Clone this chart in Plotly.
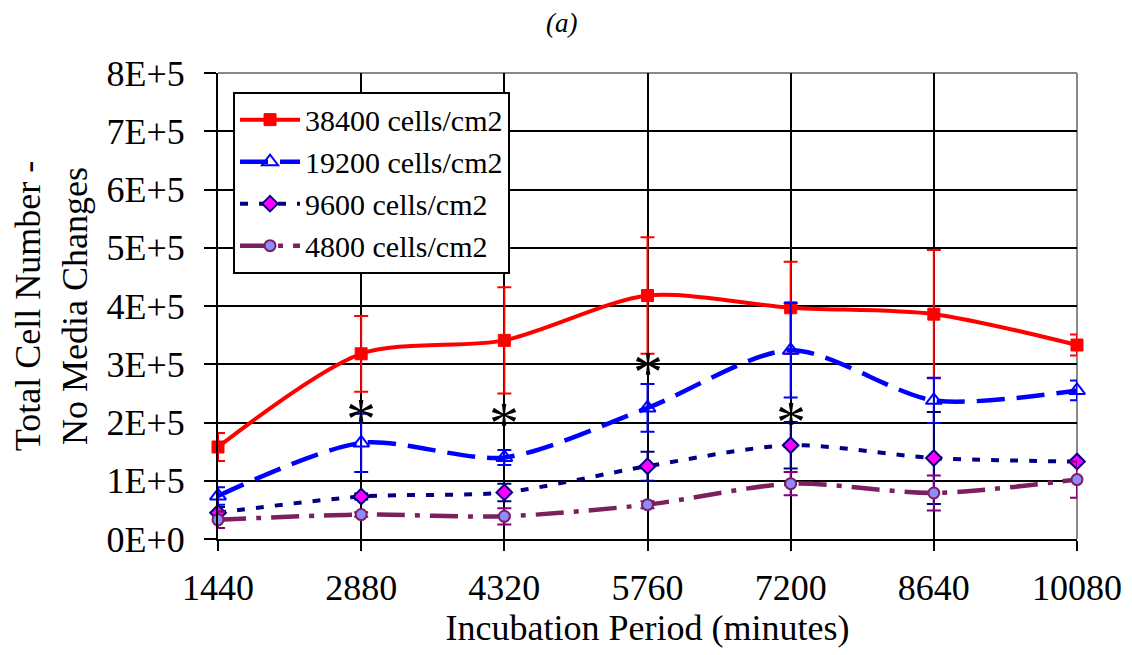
import plotly.graph_objects as go

# ---- data ----
incubation_minutes = [1440, 2880, 4320, 5760, 7200, 8640, 10080]
x_tick_text = ["1440", "2880", "4320", "5760", "7200", "8640", "10080"]
series_names = ["38400 cells/cm2", "19200 cells/cm2", "9600 cells/cm2", "4800 cells/cm2"]
cells_38400 = [158000, 318000, 341000, 418000, 397000, 386000, 333000]
err_38400 = [24000, 65000, 91000, 100000, 79000, 110000, 18000]
cells_19200 = [74000, 165000, 140000, 225000, 324000, 238000, 255000]
err_19200 = [15000, 50000, 13000, 41000, 81000, 39000, 17000]
cells_9600 = [45000, 73000, 80000, 125000, 161000, 139000, 133000]
err_9600 = [10000, 5000, 15000, 25000, 40000, 79000, 3000]
cells_4800 = [33000, 42000, 39000, 59000, 95000, 79000, 102000]
err_4800 = [14000, 4000, 14000, 6000, 20000, 30000, 31000]
star_x = [2880, 4320, 5760, 7200]
star_y = [225000, 218000, 306000, 219000]
y_tick_vals = [0, 100000, 200000, 300000, 400000, 500000, 600000, 700000, 800000]
y_tick_text = ["0E+0", "1E+5", "2E+5", "3E+5", "4E+5", "5E+5", "6E+5", "7E+5", "8E+5"]

FONT = "Liberation Serif, Times New Roman, serif"

fig = go.Figure()

styles = [
    dict(color="#FF0000", dash="solid", width=4,
         marker=dict(symbol="square", size=12, color="#FF0000", line=dict(color="#FF0000", width=1))),
    dict(color="#0000FF", dash="28px,12px", width=4.5,
         marker=dict(symbol="triangle-up-open", size=14, color="#0000FF", line=dict(color="#0000FF", width=2))),
    dict(color="#000080", dash="8px,11px", width=4,
         marker=dict(symbol="diamond", size=12, color="#FF00FF", line=dict(color="#000080", width=2))),
    dict(color="#7B1F5E", dash="28px,10px,5px,10px", width=4.5,
         marker=dict(symbol="circle", size=11, color="#8C8CFF", line=dict(color="#7B1F5E", width=2))),
]
values = [cells_38400, cells_19200, cells_9600, cells_4800]
errors = [err_38400, err_19200, err_9600, err_4800]
err_colors = ["#FF0000", "#0000FF", "#000080", "#800080"]

for name, vals, errs, st, ec in zip(series_names, values, errors, styles, err_colors):
    fig.add_trace(go.Scatter(
        x=incubation_minutes, y=vals, name=name, mode="lines+markers",
        line=dict(color=st["color"], dash=st["dash"], width=st["width"], shape="spline", smoothing=0.8),
        marker=st["marker"],
        error_y=dict(type="data", array=errs, visible=True, color=ec, thickness=2, width=7),
        cliponaxis=False,
    ))

for sx, sy in zip(star_x, star_y):
    fig.add_annotation(x=sx, y=sy, text="*", showarrow=False,
                       font=dict(family=FONT, size=60, color="black"),
                       xanchor="center", yanchor="middle", yshift=-11)

fig.add_annotation(x=(561 - 218) / 859, y=1, xref="paper", yref="paper",
                   text="<i>(a)</i>", showarrow=False, xanchor="center", yanchor="middle",
                   yshift=50, font=dict(family=FONT, size=27, color="black"))

# gray top and right frame
fig.add_shape(type="line", xref="paper", yref="paper", x0=0, x1=1, y0=1, y1=1,
              line=dict(color="#888888", width=2), layer="between")
fig.add_shape(type="line", xref="paper", yref="paper", x0=1, x1=1, y0=0, y1=1,
              line=dict(color="#888888", width=2), layer="between")

fig.update_layout(
    width=1132, height=655,
    margin=dict(l=210, r=63, t=65, b=124),
    paper_bgcolor="white", plot_bgcolor="white",
    font=dict(family=FONT, size=36, color="black"),
    showlegend=True,
    legend=dict(x=0.0175, y=0.96, xanchor="left", yanchor="top",
                bgcolor="white", bordercolor="black", borderwidth=2,
                font=dict(family=FONT, size=30, color="black"),
                itemwidth=60, tracegroupgap=0),
)
fig.update_xaxes(
    range=[1440, 10080], tickvals=incubation_minutes, ticktext=x_tick_text,
    showgrid=True, gridcolor="black", gridwidth=1.5,
    showline=True, linecolor="black", linewidth=2,
    ticks="outside", ticklen=10, tickwidth=2, tickcolor="black",
    ticklabelstandoff=6, automargin=False,
    zeroline=False, tickfont=dict(size=36),
    title=dict(text="Incubation Period (minutes)", standoff=0, font=dict(family=FONT, size=36)),
)
fig.update_yaxes(
    range=[0, 800000], tickvals=y_tick_vals, ticktext=y_tick_text,
    showgrid=True, gridcolor="black", gridwidth=2,
    showline=True, linecolor="black", linewidth=2,
    ticks="outside", ticklen=12, tickwidth=2, tickcolor="black",
    ticklabelstandoff=12, automargin=False,
    zeroline=False, tickfont=dict(size=36),
    title=dict(text="Total Cell Number -<br>No Media Changes", standoff=8, font=dict(family=FONT, size=36)),
)

fig.write_html("out.html")
